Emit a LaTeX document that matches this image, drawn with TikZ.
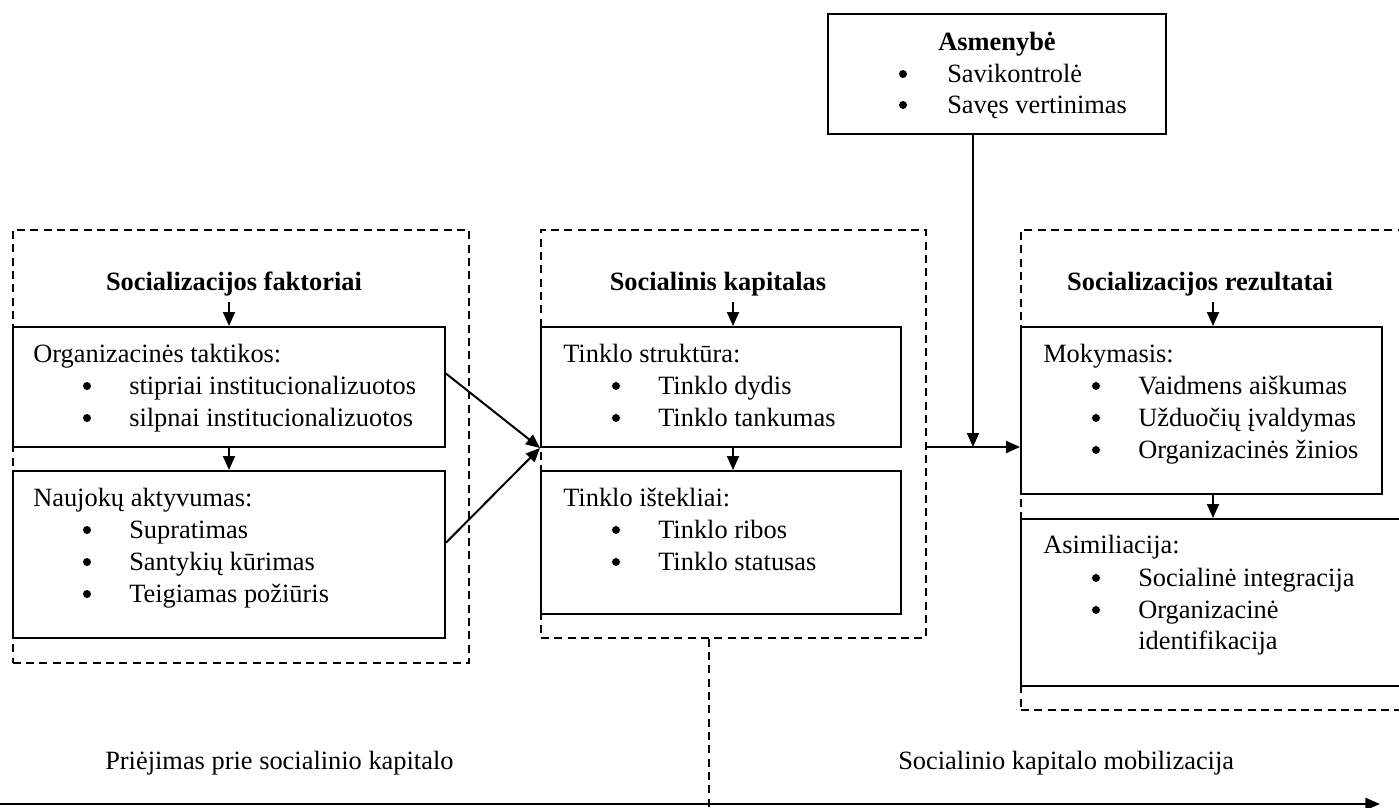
\documentclass[tikz,border=0pt]{standalone}
\usepackage{fontspec}
\setmainfont{Liberation Serif}
\usetikzlibrary{arrows.meta,fit,calc}

\begin{document}
\begin{tikzpicture}[x=0.75pt,y=-0.75pt,
  every node/.style={font=\fontsize{19.8pt}{24pt}\selectfont},
  boxnode/.style={draw, line width=1.5pt, inner sep=0pt},
  grp/.style={draw, line width=1.2pt, dash pattern=on 6pt off 4pt, inner sep=0pt},
  grpline/.style={line width=1.2pt, dash pattern=on 6pt off 4pt},
  lbl/.style={anchor=base west, inner sep=0pt},
  head/.style={anchor=base, inner sep=0pt, font=\fontsize{19.8pt}{24pt}\selectfont\bfseries},
  dot/.style={circle, fill, inner sep=0pt, minimum size=6pt, yshift=6pt},
  arr/.style={line width=1.5pt, -{Triangle[length=10.5pt,width=9pt]}},
  bigarr/.style={line width=2pt, -{Triangle[length=11pt,width=9pt]}}
]
\useasboundingbox (0,0) rectangle (1399,807);

% dashed groups
\node[grp, fit={(12.7,230) (469,663)}] (gf) {};
\node[grp, fit={(541,230) (926,638)}] (gk) {};
\node[grp, fit={(1021,230) (1420,710)}] (gr) {};

% personality box
\node[boxnode, fill=white, fit={(828,14) (1166,134)}] (as) {};
\node[head] (ash) at (997,50) {Asmenybė};
\node[dot] (asb1) at (903,82) {};
\node[lbl] (ast1) at (947,82) {Savikontrolė};
\node[dot] (asb2) at (903,113) {};
\node[lbl] (ast2) at (947,113) {Savęs vertinimas};

% socialization factors
\node[head] (hf) at (234,290) {Socializacijos faktoriai};
\node[boxnode, fit={(12.7,327) (445,447)}] (f1) {};
\node[lbl] (f1t) at (33,362) {Organizacinės taktikos:};
\node[dot] (f1b1) at (87,394) {};
\node[lbl] (f1t1) at (129,394) {stipriai institucionalizuotos};
\node[dot] (f1b2) at (87,426) {};
\node[lbl] (f1t2) at (129,426) {silpnai institucionalizuotos};

\node[boxnode, fit={(12.7,471) (445,638)}] (f2) {};
\node[lbl] (f2t) at (33,506) {Naujokų aktyvumas:};
\node[dot] (f2b1) at (87,538) {};
\node[lbl] (f2t1) at (129,538) {Supratimas};
\node[dot] (f2b2) at (87,570) {};
\node[lbl] (f2t2) at (129,570) {Santykių kūrimas};
\node[dot] (f2b3) at (87,602) {};
\node[lbl] (f2t3) at (129,602) {Teigiamas požiūris};

% social capital
\node[head] (hk) at (718,290) {Socialinis kapitalas};
\node[boxnode, fit={(541,327) (901,447)}] (k1) {};
\node[lbl] (k1t) at (563,362) {Tinklo struktūra:};
\node[dot] (k1b1) at (616,394) {};
\node[lbl] (k1t1) at (658,394) {Tinklo dydis};
\node[dot] (k1b2) at (616,426) {};
\node[lbl] (k1t2) at (658,426) {Tinklo tankumas};

\node[boxnode, fit={(541,471) (901,614)}] (k2) {};
\node[lbl] (k2t) at (563,506) {Tinklo ištekliai:};
\node[dot] (k2b1) at (616,538) {};
\node[lbl] (k2t1) at (658,538) {Tinklo ribos};
\node[dot] (k2b2) at (616,570) {};
\node[lbl] (k2t2) at (658,570) {Tinklo statusas};

% socialization outcomes
\node[head] (hr) at (1200,290) {Socializacijos rezultatai};
\node[boxnode, fit={(1021,327) (1382,494)}] (m) {};
\node[lbl] (mt) at (1043,362) {Mokymasis:};
\node[dot] (mb1) at (1096,394) {};
\node[lbl] (mt1) at (1138,394) {Vaidmens aiškumas};
\node[dot] (mb2) at (1096,426) {};
\node[lbl] (mt2) at (1138,426) {Užduočių įvaldymas};
\node[dot] (mb3) at (1096,458) {};
\node[lbl] (mt3) at (1138,458) {Organizacinės žinios};

\node[boxnode, fit={(1021,519) (1410,686)}] (a) {};
\node[lbl] (at) at (1043,553) {Asimiliacija:};
\node[dot] (ab1) at (1096,586) {};
\node[lbl] (at1) at (1138,586) {Socialinė integracija};
\node[dot] (ab2) at (1096,618) {};
\node[lbl] (at2) at (1138,618) {Organizacinė};
\node[lbl] (at3) at (1138,649) {identifikacija};

% arrows inside the groups
\coordinate (af) at (229,302);
\coordinate (ak) at (733,302);
\coordinate (ar) at (1213,302);
\draw[arr] (af) -- (af |- f1.north);
\draw[arr] (ak) -- (ak |- k1.north);
\draw[arr] (ar) -- (ar |- m.north);
\draw[arr] (af |- f1.south) -- (af |- f2.north);
\draw[arr] (ak |- k1.south) -- (ak |- k2.north);
\draw[arr] (ar |- m.south) -- (ar |- a.north);

% factors feed social capital
\draw[arr] ($(f1.north east)!0.39!(f1.south east)$) -- (k1.south west);
\draw[arr] ($(f2.north east)!0.43!(f2.south east)$) -- (k1.south west);

% social capital to outcomes, moderated by personality
\coordinate (jn) at (973,447);
\draw[arr] (gk.east |- jn) -- (m.west |- jn);
\draw[arr] (as.south -| jn) -- (jn);

% time axis
\coordinate (split) at (709,807);
\draw[grpline] (split |- gk.south) -- (split);
\coordinate (tl) at (0,804);
\coordinate (tr) at (1380,804);
\draw[bigarr] (tl) -- (tr);
\node[lbl] (p1) at (105,769) {Priėjimas prie socialinio kapitalo};
\node[lbl] (p2) at (898,769) {Socialinio kapitalo mobilizacija};
\end{tikzpicture}
\end{document}
